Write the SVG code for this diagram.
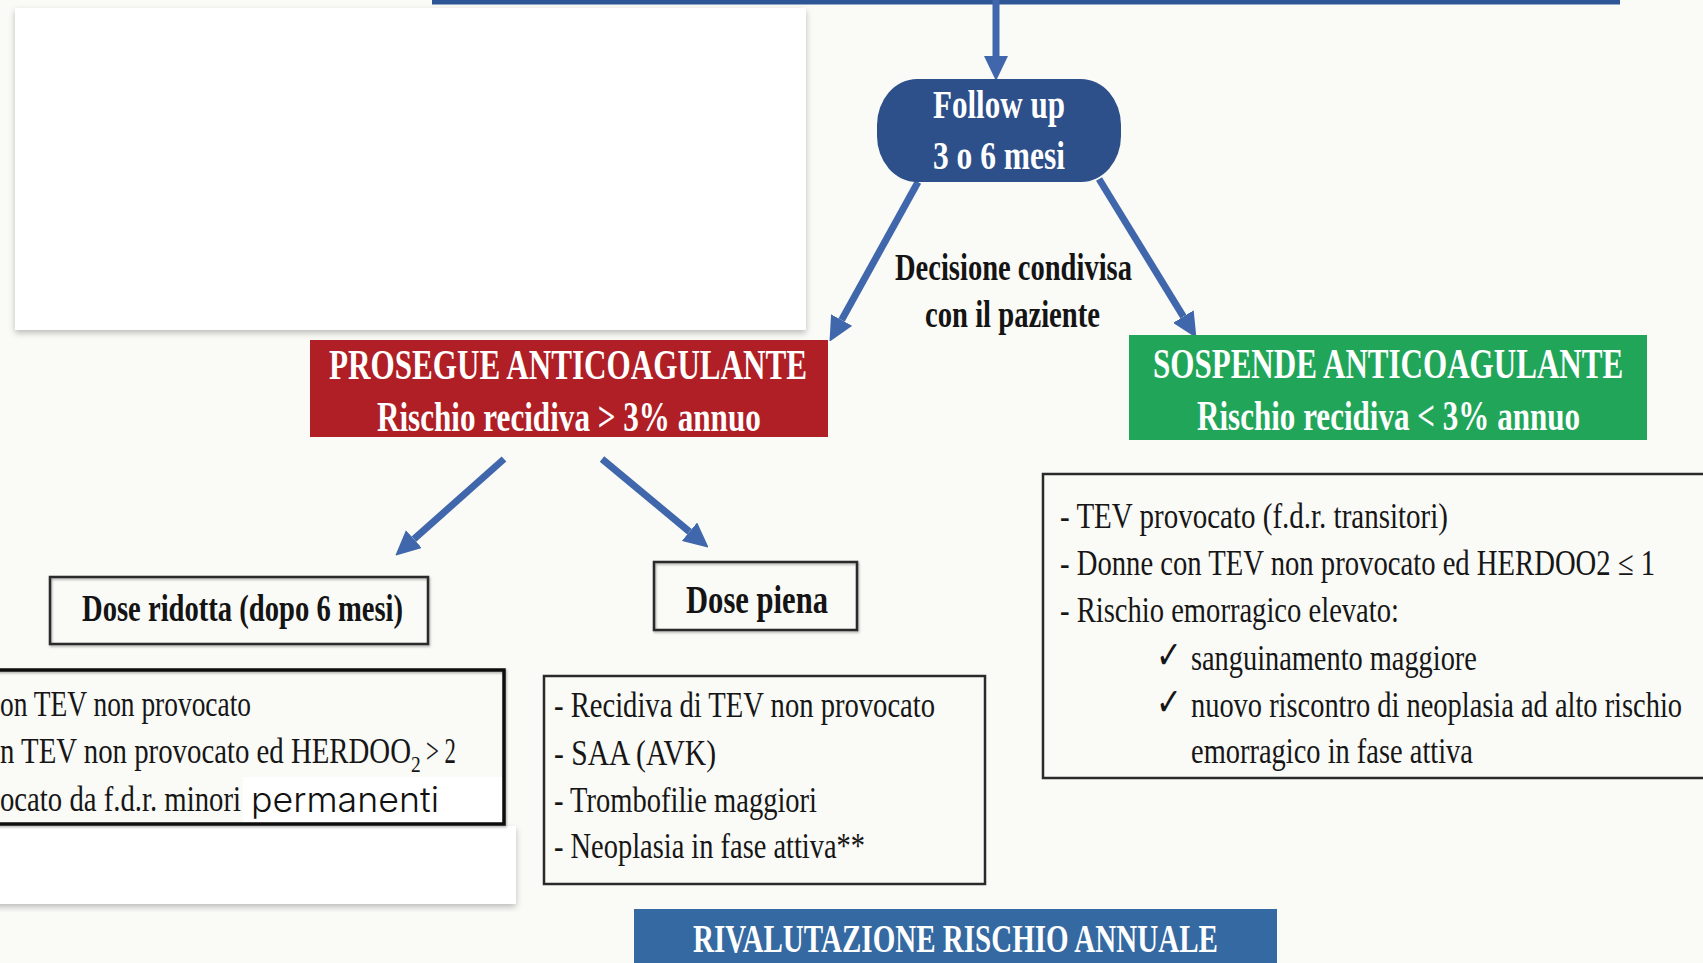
<svg xmlns="http://www.w3.org/2000/svg" width="1703" height="963" viewBox="0 0 1703 963">
<defs>
<style>
.b{font-family:"Liberation Serif","Times New Roman",serif;font-weight:bold}
.r{font-family:"Liberation Serif","DejaVu Serif","Times New Roman",serif;font-size:35px;fill:#161616}
.wt{fill:#ffffff}
.dk{fill:#141414}
.box{fill:none;stroke:#2a2a2a;stroke-width:2.5}
.arr{stroke:#4067ab;stroke-width:7;fill:none;marker-end:url(#ah)}
</style>
<marker id="ah" viewBox="0 0 24 24" refX="0" refY="12" markerWidth="24" markerHeight="24" markerUnits="userSpaceOnUse" orient="auto">
<path d="M0,0 L25,12 L0,24 z" fill="#4067ab"/>
</marker>
<filter id="sh" x="-5%" y="-5%" width="110%" height="115%">
<feDropShadow dx="0" dy="3" stdDeviation="3" flood-color="#000" flood-opacity="0.25"/>
</filter>
<filter id="sh2" x="-5%" y="-5%" width="110%" height="115%">
<feDropShadow dx="1" dy="1.5" stdDeviation="1.2" flood-color="#000" flood-opacity="0.3"/>
</filter>
</defs>
<rect x="0" y="0" width="1703" height="963" fill="#fafaf7"/>
<rect id="top-bar" x="432" y="-4" width="1188" height="8.5" fill="#2e5596"/>
<rect id="white-panel-top" x="15" y="8" width="791" height="322" fill="#ffffff" filter="url(#sh)"/>

<g id="connectors">
<line class="arr" x1="996" y1="0" x2="996" y2="56"/>
<line class="arr" x1="918" y1="182" x2="841.6" y2="320"/>
<line class="arr" x1="1099" y1="179" x2="1183.4" y2="316.6"/>
<line class="arr" x1="504" y1="459" x2="413.9" y2="539.1"/>
<line class="arr" x1="602" y1="459" x2="689.5" y2="531.7"/>
</g>

<g id="follow-up">
<rect x="877" y="79" width="244" height="103" rx="40" ry="46" fill="#2d4f8a"/>
<text class="b wt" transform="translate(933,118) scale(0.76,1)" x="0" y="0" font-size="41" textLength="173.7" lengthAdjust="spacingAndGlyphs">Follow up</text>
<text class="b wt" transform="translate(933,169) scale(0.76,1)" x="0" y="0" font-size="41" textLength="173.7" lengthAdjust="spacingAndGlyphs">3 o 6 mesi</text>
</g>

<g id="decision-label">
<text class="b dk" transform="translate(895,280) scale(0.76,1)" x="0" y="0" font-size="38" textLength="311.8" lengthAdjust="spacingAndGlyphs">Decisione condivisa</text>
<text class="b dk" transform="translate(925,327) scale(0.76,1)" x="0" y="0" font-size="38" textLength="230.3" lengthAdjust="spacingAndGlyphs">con il paziente</text>
</g>

<g id="prosegue">
<rect x="310" y="340" width="518" height="97" fill="#b01f25"/>
<text class="b wt" transform="translate(329,379) scale(0.72,1)" x="0" y="0" font-size="43" textLength="664" lengthAdjust="spacingAndGlyphs">PROSEGUE ANTICOAGULANTE</text>
<text class="b wt" transform="translate(377,431) scale(0.72,1)" x="0" y="0" font-size="43" textLength="533" lengthAdjust="spacingAndGlyphs">Rischio recidiva &gt; 3% annuo</text>
</g>

<g id="sospende">
<rect x="1129" y="335" width="518" height="105" fill="#21a659"/>
<text class="b wt" transform="translate(1153,378) scale(0.72,1)" x="0" y="0" font-size="43" textLength="653" lengthAdjust="spacingAndGlyphs">SOSPENDE ANTICOAGULANTE</text>
<text class="b wt" transform="translate(1197,430) scale(0.72,1)" x="0" y="0" font-size="43" textLength="532" lengthAdjust="spacingAndGlyphs">Rischio recidiva &lt; 3% annuo</text>
</g>

<g id="dose-ridotta">
<rect class="box" x="50" y="577" width="378" height="67" filter="url(#sh2)" fill="#fafaf7"/>
<text class="b dk" transform="translate(82,621) scale(0.76,1)" x="0" y="0" font-size="37" textLength="422.4" lengthAdjust="spacingAndGlyphs">Dose ridotta (dopo 6 mesi)</text>
</g>

<g id="dose-piena">
<rect class="box" x="654" y="562" width="203" height="68" filter="url(#sh2)" fill="#fafaf7"/>
<text class="b dk" transform="translate(686,613) scale(0.76,1)" x="0" y="0" font-size="40" textLength="186.8" lengthAdjust="spacingAndGlyphs">Dose piena</text>
</g>

<g id="white-panel-bottom">
<rect x="-10" y="826" width="526" height="78" fill="#ffffff" filter="url(#sh)"/>
</g>

<g id="list-ridotta">
<rect x="-10" y="670" width="514" height="154" fill="none" stroke="#111" stroke-width="3.5" filter="url(#sh2)"/>
<text class="r" transform="translate(0,716) scale(0.81,1)" x="0" y="0" textLength="309.9" lengthAdjust="spacingAndGlyphs">on TEV non provocato</text>
<text class="r" transform="translate(0,763) scale(0.81,1)" y="0"><tspan x="0" textLength="507.4" lengthAdjust="spacingAndGlyphs">n TEV non provocato ed HERDOO</tspan><tspan x="507.4" dy="9" font-size="24">2</tspan><tspan x="526" dy="-9" textLength="37" lengthAdjust="spacingAndGlyphs">&gt; 2</tspan></text>
<text class="r" transform="translate(0,811) scale(0.81,1)" x="0" y="0" textLength="297.5" lengthAdjust="spacingAndGlyphs">ocato da f.d.r. minori</text>
<rect x="243" y="777" width="259" height="45" fill="#ffffff"/>
<text x="251" y="812" font-family="Inter, Liberation Sans, Arial, sans-serif" font-weight="300" font-size="35" fill="#111" textLength="188" lengthAdjust="spacingAndGlyphs">permanenti</text>
</g>

<g id="list-piena">
<rect class="box" x="544" y="676" width="441" height="208"/>
<text class="r" transform="translate(554,717) scale(0.81,1)" x="0" y="0" textLength="470.4" lengthAdjust="spacingAndGlyphs">- Recidiva di TEV non provocato</text>
<text class="r" transform="translate(554,765) scale(0.81,1)" x="0" y="0" textLength="200" lengthAdjust="spacingAndGlyphs">- SAA (AVK)</text>
<text class="r" transform="translate(554,812) scale(0.81,1)" x="0" y="0" textLength="324.7" lengthAdjust="spacingAndGlyphs">- Trombofilie maggiori</text>
<text class="r" transform="translate(554,858) scale(0.81,1)" x="0" y="0" textLength="384" lengthAdjust="spacingAndGlyphs">- Neoplasia in fase attiva**</text>
</g>

<g id="list-sospende">
<rect class="box" x="1043" y="474" width="680" height="304"/>
<text class="r" transform="translate(1060,528) scale(0.81,1)" x="0" y="0" textLength="479" lengthAdjust="spacingAndGlyphs">- TEV provocato (f.d.r. transitori)</text>
<text class="r" transform="translate(1060,575) scale(0.81,1)" x="0" y="0" textLength="734.6" lengthAdjust="spacingAndGlyphs">- Donne con TEV non provocato ed HERDOO2 ≤ 1</text>
<text class="r" transform="translate(1060,622) scale(0.81,1)" x="0" y="0" textLength="418.5" lengthAdjust="spacingAndGlyphs">- Rischio emorragico elevato:</text>
<text class="r" transform="translate(1156,668) scale(0.81,1)" y="0"><tspan x="0" font-size="38">✓</tspan><tspan x="43.2" dy="2" textLength="353" lengthAdjust="spacingAndGlyphs">sanguinamento maggiore</tspan></text>
<text class="r" transform="translate(1156,715) scale(0.81,1)" y="0"><tspan x="0" font-size="38">✓</tspan><tspan x="43.2" dy="2" textLength="606.2" lengthAdjust="spacingAndGlyphs">nuovo riscontro di neoplasia ad alto rischio</tspan></text>
<text class="r" transform="translate(1191,763) scale(0.81,1)" x="0" y="0" textLength="348.1" lengthAdjust="spacingAndGlyphs">emorragico in fase attiva</text>
</g>

<g id="rivalutazione">
<rect x="634" y="909" width="643" height="60" fill="#3469a1"/>
<text class="b wt" transform="translate(693,952) scale(0.72,1)" x="0" y="0" font-size="40" textLength="729" lengthAdjust="spacingAndGlyphs">RIVALUTAZIONE RISCHIO ANNUALE</text>
</g>
</svg>
